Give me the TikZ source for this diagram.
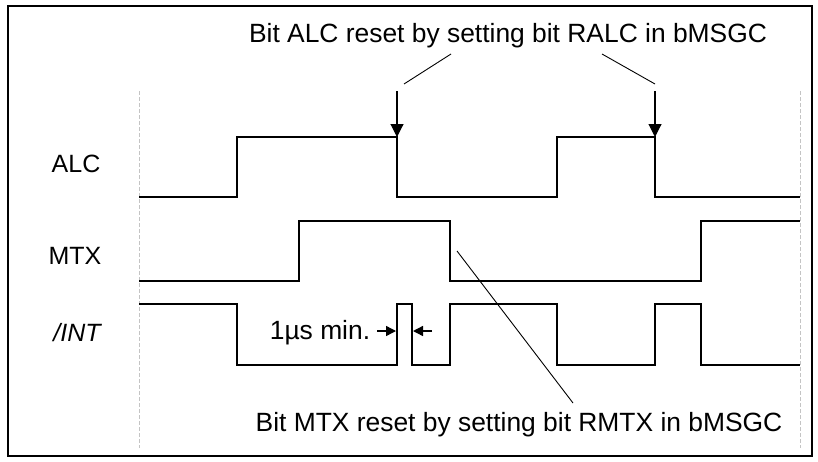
\documentclass[tikz,border=0pt]{standalone}
\usepackage{fontspec}
\setmainfont{Liberation Sans}
\usetikzlibrary{arrows.meta,positioning}
\definecolor{gridgrey}{HTML}{C4C4C4}

\begin{document}
\begin{tikzpicture}[
x=0.5pt, y=-0.5pt,
sigline/.style={line width=0.75pt, black},
gridline/.style={gridgrey, line width=0.4pt, dash pattern=on 2pt off 1pt},
leader/.style={line width=0.45pt},
resetarrow/.style={-{Triangle[length=6.5pt,width=6.5pt]}, line width=0.55pt},
gaparrow/.style={-{Triangle[length=5pt,width=5pt]}, line width=0.7pt},
siglabel/.style={font=\fontsize{12.5}{14}\selectfont, inner sep=0pt, anchor=base},
note/.style={font=\fontsize{13.2}{15}\selectfont, inner sep=0pt, anchor=base}
]
\useasboundingbox (0,0) rectangle (818,461);

% --- Frame ---
\draw[line width=1pt] (7.5,5.5) rectangle (812,456);

% --- Time limits ---
\draw[gridline] (139,91) -- (139,448);
\draw[gridline] (800,91) -- (800,448);

% --- Signal names ---
\node[siglabel] (lblALC) at (76,172) {ALC};
\node[siglabel] (lblMTX) at (75,264) {MTX};
\node[siglabel] (lblINT) at (77,341) {\itshape /INT};

% --- Waveforms ---
\draw[sigline] (139,197) -- (237,197) -- (237,137) -- (397,137) -- (397,197)
  -- (557,197) -- (557,137) -- (655,137) -- (655,197) -- (800,197);
\draw[sigline] (139,281) -- (299,281) -- (299,221) -- (450,221) -- (450,281)
  -- (701,281) -- (701,221) -- (800,221);
\draw[sigline] (139,304) -- (237,304) -- (237,365) -- (397,365) -- (397,304)
  -- (412,304) -- (412,365) -- (450,365) -- (450,304) -- (557,304) -- (557,365)
  -- (655,365) -- (655,304) -- (701,304) -- (701,365) -- (800,365);

% --- ALC reset ---
\node[note] (alcnote) at (508,42) {Bit ALC reset by setting bit RALC in bMSGC};
\coordinate (alcleadA) at (451,54);
\coordinate (alcleadB) at (602,54);
\coordinate (alctopA) at (397,91);
\coordinate (alctopB) at (655,91);
\coordinate (alcfallA) at (397,137);
\coordinate (alcfallB) at (655,137);
\draw[leader] (alcleadA) -- (404,84);
\draw[leader] (alcleadB) -- (655,84);
\draw[resetarrow] (alctopA) -- (alcfallA);
\draw[resetarrow] (alctopB) -- (alcfallB);

% --- MTX reset ---
\node[note] (mtxnote) at (519,431) {Bit MTX reset by setting bit RMTX in bMSGC};
\coordinate (mtxfall) at (457,251);
\coordinate (mtxlead) at (573,403);
\draw[leader] (mtxfall) -- (mtxlead);

% --- Minimum pulse width ---
\node[note] (minnote) at (320,339) {1µs min.};
\coordinate (gapstartA) at (377,331);
\coordinate (gapstartB) at (432,331);
\coordinate (gapL) at (396,331);
\coordinate (gapR) at (413,331);
\draw[gaparrow] (gapstartA) -- (gapL);
\draw[gaparrow] (gapstartB) -- (gapR);

\end{tikzpicture}
\end{document}
